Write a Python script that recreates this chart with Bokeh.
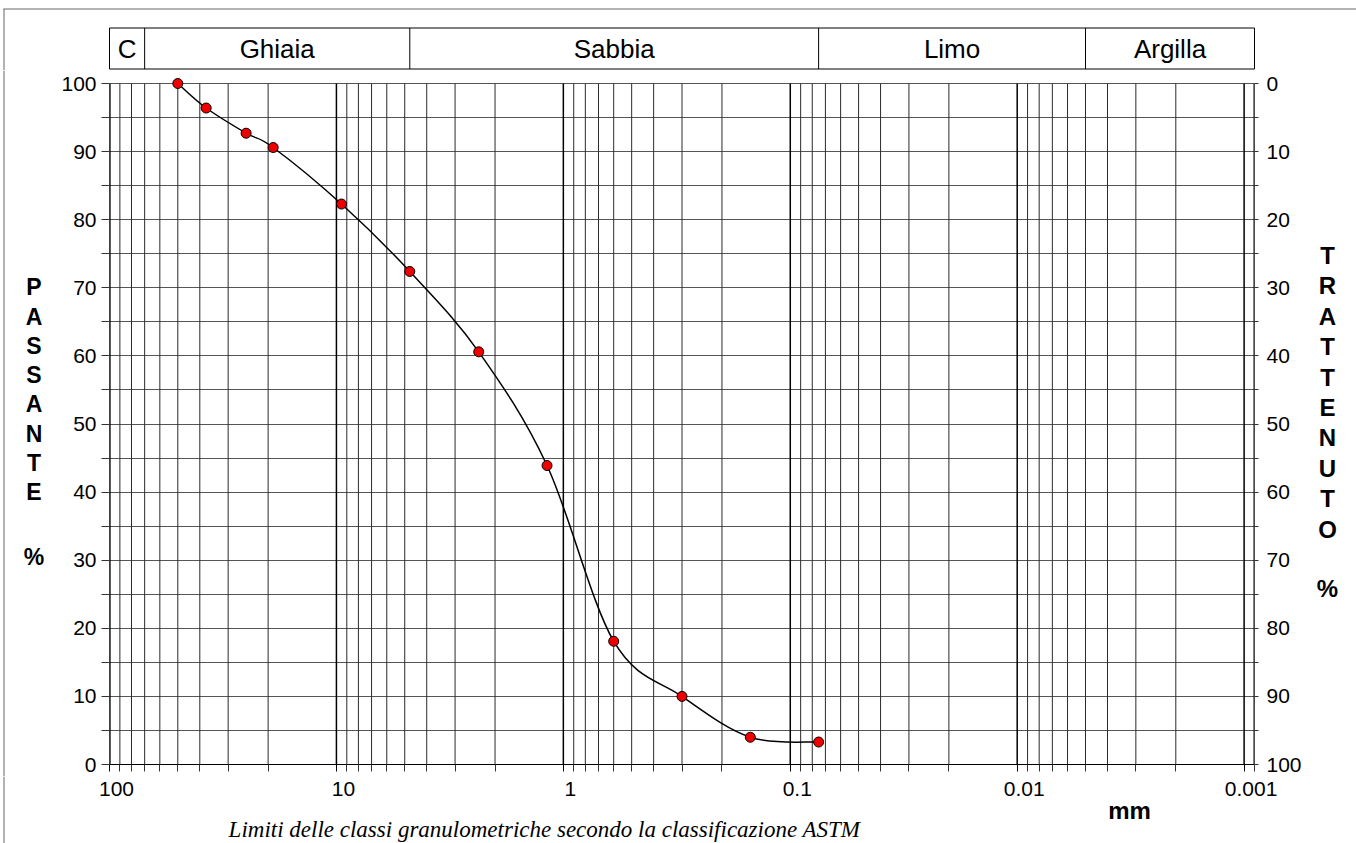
import math
from bokeh.plotting import figure
from bokeh.models import (Range1d, FixedTicker, LinearAxis, LinearScale, CustomJSTickFormatter)
from bokeh.layouts import column, row
from bokeh.embed import file_html
from bokeh.resources import INLINE
from bokeh.core.properties import value

# ---------------- data ----------------
sieve_mm = [50, 37.5, 25, 19, 9.5, 4.75, 2.36, 1.18, 0.6, 0.3, 0.15, 0.075]
passante = [100, 96.4, 92.7, 90.6, 82.3, 72.4, 60.6, 43.9, 18.1, 10.0, 4.0, 3.3]
class_names = ["C", "Ghiaia", "Sabbia", "Limo", "Argilla"]
class_bounds = [100, 70, 4.75, 0.075, 0.005, 0.0009]
x_tick_values = [100, 10, 1, 0.1, 0.01, 0.001]
x_tick_labels = ["100", "10", "1", "0.1", "0.01", "0.001"]
y_ticks = [0, 10, 20, 30, 40, 50, 60, 70, 80, 90, 100]
y_minor_ticks = [5, 15, 25, 35, 45, 55, 65, 75, 85, 95]
left_title = ["P", "A", "S", "S", "A", "N", "T", "E"]
right_title = ["T", "R", "A", "T", "T", "E", "N", "U", "T", "O"]
x_unit = "mm"
note = "Limiti delle classi granulometriche secondo la classificazione ASTM"

# ---------------- geometry (page pixels) ----------------
FONT = "Liberation Sans"
PAGE_W, PAGE_H = 1356, 843
TOP_H = 70                      # strip with the class band
LEFT_W = 54                     # left title column
FRAME_L, FRAME_R = 109, 1254    # plot frame, page x
FRAME_T, FRAME_B = 76, 764
RIGHT_X0 = 1305                 # right title column start
MAIN_BOTTOM = 776
X_MAX = class_bounds[0]
X_MIN = class_bounds[-1]
Y_TOP = 100 * (FRAME_B - FRAME_T) / 681.0   # head room above 100 for the top marker
BORDER = "#666666"

FRAME_W = FRAME_R - FRAME_L
D = FRAME_W / (math.log10(X_MAX) - math.log10(X_MIN))   # px per decade


def bare(fig):
    fig.grid.visible = False
    fig.outline_line_color = None
    return fig


def log_range(left_px, right_px):
    """log x-range whose frame spans page px left_px..right_px, aligned with the main frame"""
    return Range1d(start=10 ** (math.log10(X_MAX) + (FRAME_L - left_px) / D),
                   end=10 ** (math.log10(X_MIN) - (right_px - FRAME_R) / D))


# ---------------- top strip: border + class band ----------------
top = bare(figure(width=PAGE_W, height=TOP_H, x_range=log_range(0, PAGE_W),
                  y_range=Range1d(TOP_H, 0),
                  x_axis_type="log", x_axis_location=None, y_axis_location=None,
                  toolbar_location=None, output_backend="svg", min_border=0))
top.extra_x_ranges = {"px": Range1d(0, PAGE_W)}
top.extra_x_scales = {"px": LinearScale()}
top.segment(x0=[3, 3.5], y0=[8.5, 8.5], x1=[PAGE_W, 3.5], y1=[8.5, TOP_H], x_range_name="px",
            line_color=BORDER, line_width=1)
BAND_T, BAND_B = 27.5, 68.5
top.segment(x0=[X_MAX, X_MAX], y0=[BAND_T, BAND_B], x1=[X_MIN, X_MIN], y1=[BAND_T, BAND_B],
            line_color="black", line_width=1)
top.segment(x0=class_bounds, y0=BAND_T, x1=class_bounds, y1=BAND_B,
            line_color="black", line_width=1)
centers = [10 ** ((math.log10(a) + math.log10(b)) / 2)
           for a, b in zip(class_bounds[:-1], class_bounds[1:])]
top.text(x=centers, y=[(BAND_T + BAND_B) / 2] * len(centers), text=class_names,
         text_align="center", text_baseline="middle",
         text_font=value(FONT), text_font_size="26px", text_color="black")

# ---------------- left title column ----------------
left = bare(figure(width=LEFT_W, height=MAIN_BOTTOM - TOP_H, x_range=Range1d(0, LEFT_W),
                   y_range=Range1d(MAIN_BOTTOM, TOP_H), x_axis_location=None,
                   y_axis_location=None, toolbar_location=None, output_backend="svg",
                   min_border=0))
left.segment(x0=[3.5], y0=[TOP_H], x1=[3.5], y1=[MAIN_BOTTOM], line_color=BORDER, line_width=1)
left.text(x=[33.5] * (len(left_title) + 1),
          y=[286.7 + 29.3 * k for k in range(len(left_title))] + [556.7],
          text=left_title + ["%"], text_align="center", text_baseline="middle",
          text_font=value(FONT), text_font_style="bold", text_font_size="23px",
          text_color="black")

# ---------------- main chart ----------------
main_w = RIGHT_X0 - LEFT_W
xr = Range1d(start=X_MAX, end=X_MIN)
p = figure(width=main_w, height=MAIN_BOTTOM - TOP_H,
           x_range=xr, y_range=Range1d(0, Y_TOP),
           x_axis_type="log", toolbar_location=None, output_backend="svg",
           min_border_left=FRAME_L - LEFT_W, min_border_right=RIGHT_X0 - FRAME_R,
           min_border_top=FRAME_T - TOP_H, min_border_bottom=MAIN_BOTTOM - FRAME_B)
p.outline_line_color = None
p.xgrid.visible = False

decades = [10.0 ** k for k in range(-3, 3)]
minors = []
for k in range(-4, 2):
    for m in range(2, 10):
        v = m * 10.0 ** k
        if X_MIN * 0.999 <= v <= X_MAX:
            minors.append(v)

# horizontal grid
p.ygrid.ticker = FixedTicker(ticks=y_ticks, minor_ticks=y_minor_ticks)
p.ygrid.grid_line_color = "#555555"
p.ygrid.minor_grid_line_color = "#555555"
p.ygrid.grid_line_width = 1.2
p.ygrid.minor_grid_line_width = 1.2

# vertical grid lines (between 0 and 100 only)
p.segment(x0=minors, y0=0, x1=minors, y1=100, line_color="#2a2a2a", line_width=1)
p.segment(x0=decades, y0=0, x1=decades, y1=100, line_color="black", line_width=1.5)
p.segment(x0=[X_MAX, X_MIN], y0=0, x1=[X_MAX, X_MIN], y1=100, line_color="black", line_width=2)

# bottom axis: ticks only (its labels are set in the strip below, on the same scale)
xa = p.xaxis[0]
xa.ticker = FixedTicker(ticks=x_tick_values, minor_ticks=minors)
xa.formatter = CustomJSTickFormatter(code="return ''")
xa.major_label_text_font_size = "0px"
xa.major_label_standoff = 0
xa.major_tick_in = 0
xa.minor_tick_in = 0
xa.major_tick_out = 7
xa.minor_tick_out = 7
xa.major_tick_line_color = "black"
xa.minor_tick_line_color = "#333333"
xa.axis_line_color = "black"

# left axis (passante)
ya = p.yaxis[0]
ya.ticker = FixedTicker(ticks=y_ticks, minor_ticks=y_minor_ticks)
ya.major_tick_in = 0
ya.minor_tick_in = 0
ya.major_tick_out = 8
ya.minor_tick_out = 8
ya.major_tick_line_color = "#333333"
ya.minor_tick_line_color = "#333333"
ya.axis_line_color = None
ya.major_label_standoff = 5
ya.major_label_text_font = FONT
ya.major_label_text_font_size = "21px"
ya.major_label_text_color = "black"

# right axis (trattenuto)
p.extra_y_ranges = {"ret": Range1d(start=100, end=100 - Y_TOP)}
ra = LinearAxis(y_range_name="ret",
                ticker=FixedTicker(ticks=y_ticks, minor_ticks=y_minor_ticks))
ra.major_tick_in = 0
ra.minor_tick_in = 0
ra.major_tick_out = 4
ra.minor_tick_out = 4
ra.major_tick_line_color = "#333333"
ra.minor_tick_line_color = "#333333"
ra.axis_line_color = None
ra.major_label_standoff = 8
ra.major_label_text_font = FONT
ra.major_label_text_font_size = "21px"
ra.major_label_text_color = "black"
p.add_layout(ra, "right")

# smooth curve (Catmull-Rom through the points, in log-x space, drawn as Bezier)
lx = [math.log10(v) for v in sieve_mm]
n = len(lx)
bx0, by0, bx1, by1, bcx0, bcy0, bcx1, bcy1 = [], [], [], [], [], [], [], []
for i in range(n - 1):
    i0, i3 = max(i - 1, 0), min(i + 2, n - 1)
    bx0.append(sieve_mm[i]); by0.append(passante[i])
    bx1.append(sieve_mm[i + 1]); by1.append(passante[i + 1])
    bcx0.append(10 ** (lx[i] + (lx[i + 1] - lx[i0]) / 6))
    bcy0.append(passante[i] + (passante[i + 1] - passante[i0]) / 6)
    bcx1.append(10 ** (lx[i + 1] - (lx[i3] - lx[i]) / 6))
    bcy1.append(passante[i + 1] - (passante[i3] - passante[i]) / 6)
p.bezier(x0=bx0, y0=by0, x1=bx1, y1=by1, cx0=bcx0, cy0=bcy0, cx1=bcx1, cy1=bcy1,
         line_color="black", line_width=1.5)
p.scatter(x=sieve_mm, y=passante, size=10, fill_color="#ee0000",
          line_color="black", line_width=1)

# ---------------- right title column ----------------
right = bare(figure(width=PAGE_W - RIGHT_X0, height=MAIN_BOTTOM - TOP_H,
                    x_range=Range1d(RIGHT_X0, PAGE_W), y_range=Range1d(MAIN_BOTTOM, TOP_H),
                    x_axis_location=None, y_axis_location=None,
                    toolbar_location=None, output_backend="svg", min_border=0))
right.text(x=[1327] * (len(right_title) + 1),
           y=[255 + 30.4 * k for k in range(len(right_title))] + [588.3],
           text=right_title + ["%"], text_align="center", text_baseline="middle",
           text_font=value(FONT), text_font_style="bold", text_font_size="24px",
           text_color="black")

# ---------------- bottom strip: x tick labels, unit, note ----------------
bottom = bare(figure(width=PAGE_W, height=PAGE_H - MAIN_BOTTOM,
                     x_range=log_range(0, PAGE_W),
                     y_range=Range1d(PAGE_H, MAIN_BOTTOM), x_axis_type="log",
                     x_axis_location=None, y_axis_location=None,
                     toolbar_location=None, output_backend="svg", min_border=0))
bottom.extra_x_ranges = {"px": Range1d(0, PAGE_W)}
bottom.extra_x_scales = {"px": LinearScale()}
bottom.segment(x0=[3.5], y0=[MAIN_BOTTOM], x1=[3.5], y1=[PAGE_H], x_range_name="px",
               line_color=BORDER, line_width=1)
bottom.text(x=x_tick_values, y=[788] * len(x_tick_values), text=x_tick_labels,
            x_offset=7, text_align="center", text_baseline="middle",
            text_font=value(FONT), text_font_size="21px", text_color="black")
bottom.text(x=[1129], y=[810], text=[x_unit], x_range_name="px",
            text_align="center", text_baseline="middle",
            text_font=value(FONT), text_font_style="bold", text_font_size="24px",
            text_color="black")
bottom.text(x=[544], y=[829], text=[note], x_range_name="px",
            text_align="center", text_baseline="middle",
            text_font=value("Liberation Serif"), text_font_style="italic",
            text_font_size="23px", text_color="black")

layout = column(top, row(left, column(p), right), bottom)
open("out.html", "w").write(file_html(layout, INLINE))
